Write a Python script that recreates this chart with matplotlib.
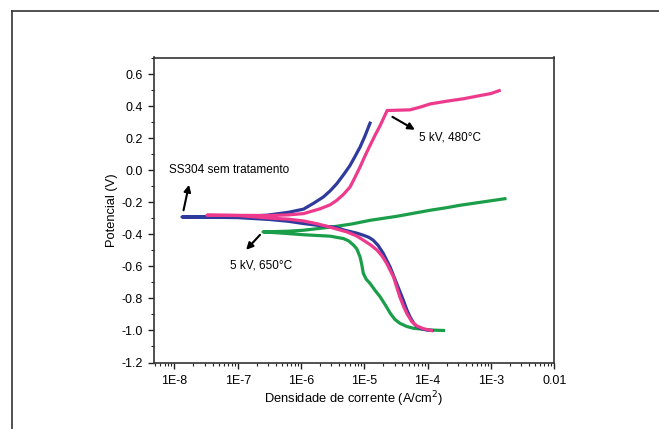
import matplotlib
matplotlib.use("Agg")
import matplotlib.pyplot as plt
import numpy as np
from matplotlib.lines import Line2D
from matplotlib.ticker import LogLocator, FixedLocator, MultipleLocator, NullFormatter

plt.rcParams['font.family'] = ['Liberation Sans', 'DejaVu Sans']

# log10 of current density (A/cm2) and potential (V)
# SS304 sem tratamento (blue): cathodic branch to Ecorr, then anodic branch
blue_logi = [-3.93, -4.016, -4.09, -4.17, -4.22, -4.28, -4.33, -4.385, -4.49, -4.595, -4.70, -4.78,
             -4.86, -4.93, -5.016, -5.12, -5.30, -5.44, -5.70, -5.96, -6.20, -6.49, -7.0, -7.88,
             -7.0, -6.54, -6.20, -5.96, -5.80, -5.647, -5.54, -5.435, -5.33, -5.226, -5.15, -5.068,
             -4.99, -4.91]
blue_v = [-1.00, -0.997, -0.99, -0.976, -0.955, -0.914, -0.87, -0.81, -0.706, -0.602, -0.519, -0.47,
          -0.436, -0.418, -0.405, -0.392, -0.375, -0.357, -0.345, -0.332, -0.318, -0.307, -0.295, -0.291,
          -0.289, -0.28, -0.262, -0.242, -0.205, -0.166, -0.128, -0.083, -0.028, 0.031, 0.085, 0.145,
          0.215, 0.295]

# 5 kV, 480 C (pink)
pink_logi = [-3.94, -4.06, -4.17, -4.25, -4.33, -4.38, -4.44, -4.54, -4.647, -4.72, -4.80, -4.90,
             -5.016, -5.12, -5.28, -5.54, -5.75, -5.96, -6.20, -6.49, -7.0, -7.486,
             -6.49, -6.20, -5.96, -5.70, -5.54, -5.435, -5.33, -5.226, -5.15, -5.068, -4.99, -4.91,
             -4.83, -4.75, -4.64, -4.28, -4.12, -3.96, -3.70, -3.44, -3.175, -3.0, -2.87]
pink_v = [-1.00, -0.99, -0.972, -0.945, -0.893, -0.85, -0.79, -0.665, -0.581, -0.535, -0.498, -0.466,
          -0.436, -0.41, -0.384, -0.355, -0.333, -0.316, -0.305, -0.298, -0.282, -0.28,
          -0.282, -0.278, -0.27, -0.24, -0.215, -0.187, -0.15, -0.104, -0.045, 0.021, 0.09, 0.156,
          0.22, 0.28, 0.374, 0.378, 0.395, 0.415, 0.432, 0.447, 0.467, 0.48, 0.498]

# 5 kV, 650 C (green)
green_logi = [-3.75, -3.96, -4.227, -4.33, -4.44, -4.52, -4.59, -4.67, -4.75, -4.83, -4.91, -4.97,
              -5.016, -5.04, -5.068, -5.12, -5.17, -5.25, -5.33, -5.54, -5.96, -6.30, -6.60,
              -6.20, -5.96, -5.70, -5.435, -5.20, -4.91, -4.49, -3.96, -3.70, -3.49, -2.78]
green_v = [-1.00, -0.997, -0.986, -0.975, -0.955, -0.93, -0.893, -0.84, -0.79, -0.75, -0.706, -0.68,
           -0.644, -0.59, -0.54, -0.49, -0.467, -0.44, -0.426, -0.411, -0.402, -0.392, -0.384,
           -0.38, -0.374, -0.362, -0.349, -0.335, -0.312, -0.287, -0.249, -0.233, -0.218, -0.177]

yticks = [-1.2, -1.0, -0.8, -0.6, -0.4, -0.2, 0.0, 0.2, 0.4, 0.6]
xticks = [1e-8, 1e-7, 1e-6, 1e-5, 1e-4, 1e-3, 1e-2]
xticklabels = ['1E-8', '1E-7', '1E-6', '1E-5', '1E-4', '1E-3', '0.01']

fig = plt.figure(figsize=(6.59, 4.29), dpi=100)
ax = fig.add_axes([153.5/659, 1 - 362.5/429, (554.3 - 153.5)/659, (362.5 - 57.5)/429])

lw = 2.3
ax.plot(10 ** np.array(blue_logi), blue_v, color='#2f3b9c', lw=lw, zorder=3, solid_joinstyle='round')
ax.plot(10 ** np.array(pink_logi), pink_v, color='#ee3a8c', lw=lw, zorder=4, solid_joinstyle='round')
ax.plot(10 ** np.array(green_logi), green_v, color='#1a9e4a', lw=lw, zorder=2, solid_joinstyle='round')

ax.set_xscale('log')
ax.set_xlim(10 ** -8.33, 1e-2)
ax.set_ylim(-1.2, 0.705)
ax.xaxis.set_major_locator(FixedLocator(xticks))
ax.set_xticklabels(xticklabels)
ax.xaxis.set_minor_locator(LogLocator(base=10, subs=range(2, 10), numticks=20))
ax.xaxis.set_minor_formatter(NullFormatter())
ax.set_yticks(yticks)
ax.set_yticklabels([f'{v:.1f}' for v in yticks])
ax.yaxis.set_minor_locator(MultipleLocator(0.1))

ax.tick_params(which='major', direction='out', length=4, width=1, labelsize=9, color='#222222')
ax.tick_params(which='minor', direction='out', length=2.5, width=0.8, color='#222222')
ax.tick_params(axis='x', pad=5)
for s in ax.spines.values():
    s.set_linewidth(1.2)
    s.set_color('#333333')

ax.set_ylabel('Potencial (V)', fontsize=9.3, labelpad=3)
ax.set_xlabel('Densidade de corrente (A/cm$^2$)', fontsize=9.3, labelpad=2)

ap = dict(arrowstyle='-|>', color='black', lw=1.5, mutation_scale=10)
ax.annotate('', xy=(10 ** -7.76, -0.073), xytext=(10 ** -7.865, -0.266), arrowprops=ap)
ax.text(10 ** -8.09, 0.0, 'SS304 sem tratamento', fontsize=8.5, va='center', ha='left')
ax.annotate('', xy=(10 ** -4.164, 0.245), xytext=(10 ** -4.595, 0.343), arrowprops=ap)
ax.text(10 ** -4.133, 0.207, '5 kV, 480°C', fontsize=8.5, va='center', ha='left')
ax.annotate('', xy=(10 ** -6.897, -0.509), xytext=(10 ** -6.618, -0.39), arrowprops=ap)
ax.text(10 ** -7.117, -0.595, '5 kV, 650°C', fontsize=8.5, va='center', ha='left')

# outer frame lines (top and left)
fig.add_artist(Line2D([12 / 659, 1.0], [1 - 11 / 429, 1 - 11 / 429], color='#333333', lw=1.2,
                      transform=fig.transFigure))
fig.add_artist(Line2D([12 / 659, 12 / 659], [0.0, 1 - 11 / 429], color='#333333', lw=1.2,
                      transform=fig.transFigure))

fig.savefig('out.png', dpi=100)
